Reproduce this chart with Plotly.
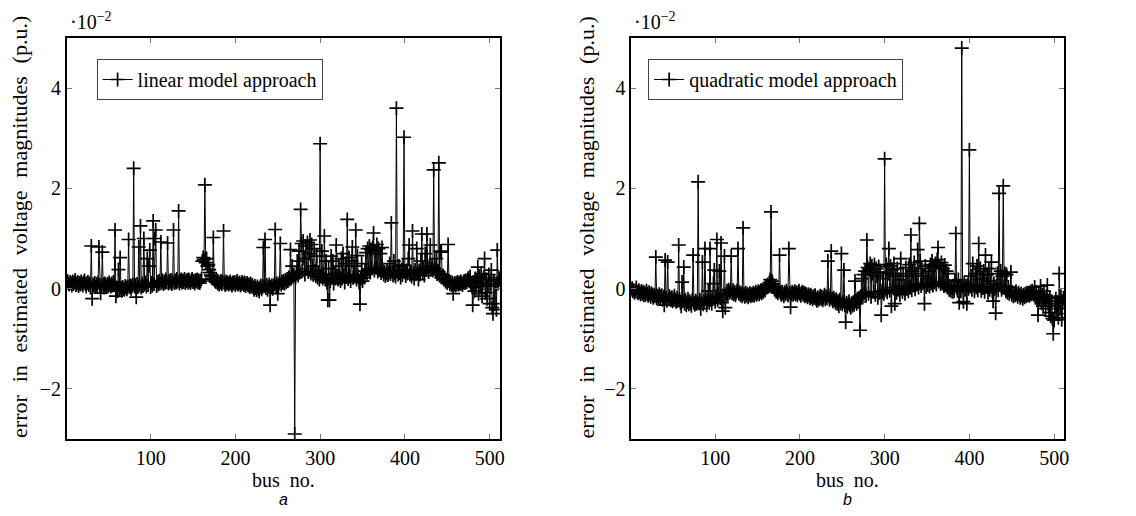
import plotly.graph_objects as go

# bus numbers
bus_no = list(range(1, 513))

# error in estimated voltage magnitudes (x 1e-2 p.u.), linear model approach
err_linear = [
    0.12, 0.15, 0.10, 0.08, 0.13, 0.11, 0.06, 0.14, 0.09, 0.12, 0.17, 0.07, 0.10, 0.13, 0.05, 0.11,
    0.08, 0.14, 0.10, 0.06, 0.12, 0.16, 0.09, 0.04, 0.11, 0.13, 0.07, 0.10, 0.02, 0.85, -0.20, 0.08,
    0.06, 0.11, 0.03, 0.09, 0.05, 0.12, 0.83, 0.07, -0.09, 0.04, 0.73, 0.08, 0.02, 0.10, 0.06, 0.03,
    0.09, 0.05, 0.12, 0.07, 0.04, 0.10, 0.06, 0.13, 0.08, 1.17, -0.15, 0.02, -0.05, 0.38, -0.03, 0.62,
    0.01, -0.04, 0.03, 0.00, -0.02, 0.05, 0.02, -0.01, 0.04, 0.98, 0.03, 0.06, 0.00, 0.05, 0.08, 2.40,
    0.04, 0.07, -0.17, 0.09, 0.03, 0.83, 0.06, 1.25, 0.02, 0.10, 0.05, 1.00, 0.08, 0.12, 0.04, 0.60,
    0.07, 0.45, 0.77, 0.03, 0.11, 0.06, 1.35, 0.09, 1.00, 1.17, 0.05, 0.13, 0.08, 0.15, 0.10, 0.93,
    0.12, 0.16, 0.09, 0.14, 0.11, 0.18, 0.13, 0.91, 0.10, 0.15, 0.12, 0.17, 0.09, 0.14, 1.17, 0.11,
    0.16, 0.12, 0.19, 0.14, 1.55, 0.10, 0.15, 0.18, 0.12, 0.16, 0.13, 0.19, 0.11, 0.15, 0.17, 0.12,
    0.18, 0.14, 0.11, 0.16, 0.19, 0.13, 0.15, 0.10, 0.17, 0.14, 0.18, 0.12, 0.16, 0.11, 0.15, 0.19,
    0.55, 0.62, 0.58, 2.07, 0.52, 0.60, 0.45, 0.48, 0.38, 0.32, 0.27, 0.24, 0.20, 1.02, 0.18, 0.15,
    0.13, 0.17, 0.10, 0.14, 0.08, 0.12, 0.15, 0.09, 0.13, 1.15, 0.11, 0.07, 0.14, 0.10, 0.12, 0.08,
    0.11, 0.14, 0.09, 0.06, 0.12, 0.10, 0.13, 0.07, 0.11, 0.15, 0.08, 0.10, 0.12, 0.06, 0.09, 0.13,
    0.10, 0.07, 0.12, 0.05, 0.09, 0.11, 0.06, 0.08, 0.03, 0.10, 0.04, 0.07, 0.02, -0.02, 0.05, 0.01,
    -0.03, 0.04, 0.00, -0.05, 0.02, 0.06, -0.01, 0.03, 0.82, 0.05, 0.98, 0.01, 0.07, -0.02, 0.04, 0.08,
    -0.33, 0.03, 0.06, 0.00, 0.05, 0.09, 1.18, 0.04, 0.10, -0.10, 0.07, 0.12, 0.90, 0.08, 0.14, 0.11,
    0.15, 0.10, 0.17, 0.13, 0.19, 0.15, 0.22, 0.18, 0.78, 0.20, 0.45, 0.24, 0.28, -2.90, 0.22, 0.30,
    0.55, 0.26, 0.75, 0.32, 1.58, 0.90, 0.35, 0.95, 0.60, 0.28, 0.85, 0.40, 0.92, 0.33, 0.70, 0.97,
    0.30, 0.88, 0.45, 0.27, 0.80, 0.35, 0.25, 0.65, 0.22, 0.30, 0.18, 2.89, 0.25, 0.75, 0.20, 0.28,
    1.05, 0.18, 0.55, 0.12, -0.23, 0.40, -0.23, 0.15, 0.65, 0.22, 0.55, 0.10, 0.30, 0.20, 0.87, 0.25,
    0.18, 0.45, 0.22, 0.15, 0.60, 0.20, 0.70, 0.27, 0.12, 0.50, 0.23, 1.38, 0.19, 0.62, 0.26, 0.15,
    0.55, 0.83, 0.21, 0.45, 0.28, 1.17, 0.18, 0.66, 0.24, 0.12, -0.31, 0.20, 0.50, 0.15, 0.27, 0.22,
    0.35, 0.72, 0.30, 0.80, 0.38, 0.85, 0.32, 0.78, 0.40, 0.82, 1.11, 0.36, 0.75, 0.42, 0.88, 0.34,
    0.80, 0.37, 0.70, 0.31, 0.82, 0.35, 0.28, 0.33, 0.25, 0.30, 0.36, 0.27, 0.32, 0.50, 0.29, 1.31,
    0.33, 0.26, 0.55, 0.30, 0.24, 3.60, 0.35, 0.28, 0.45, 0.31, 0.22, 0.38, 0.27, 0.47, 3.02, 0.32,
    0.25, 0.36, 0.30, 0.60, 0.87, 0.28, 0.34, 0.24, 1.15, 0.31, 0.20, 0.37, 0.29, 0.80, 0.33, 0.18,
    0.36, 0.28, 0.55, 1.09, 0.31, 0.40, 0.26, 0.70, 0.37, 1.09, 0.42, 0.33, 0.45, 0.87, 0.38, 0.44,
    0.36, 2.37, 0.40, 0.33, 0.60, 0.29, 0.35, 2.51, 0.30, 0.75, 0.73, 0.22, 0.26, 0.18, 0.21, 0.14,
    0.17, 0.11, 0.88, 0.15, 0.09, 0.13, 0.07, 0.12, -0.10, 0.08, 0.11, 0.06, 0.10, 0.13, 0.08, 0.12,
    0.09, 0.14, 0.10, 0.07, 0.12, 0.15, 0.11, 0.16, 0.13, 0.18, 0.21, 0.15, 0.24, 0.10, 0.05, -0.33,
    0.12, -0.05, 0.20, 0.02, 0.15, 0.43, -0.10, 0.25, 0.05, 0.30, -0.15, 0.10, 0.22, 0.60, -0.08, 0.18,
    -0.20, 0.05, 0.28, -0.30, 0.10, 0.37, -0.38, -0.50, 0.15, -0.30, 0.05, -0.42, 0.77, 0.10, 0.22, 0.18,
]

# error in estimated voltage magnitudes (x 1e-2 p.u.), quadratic model approach
err_quadratic = [
    -0.02, 0.01, -0.05, -0.03, -0.08, -0.04, 0.02, -0.06, -0.09, -0.03, -0.07, -0.11, -0.05, -0.10, -0.06, -0.13,
    -0.08, -0.12, -0.04, -0.10, -0.14, -0.07, -0.11, -0.16, -0.09, -0.13, -0.18, -0.12, -0.15, 0.63, -0.19, -0.14,
    -0.17, -0.11, -0.20, -0.15, -0.13, -0.22, -0.16, -0.33, 0.57, -0.18, -0.24, 0.53, -0.21, -0.15, -0.19, -0.23,
    -0.17, -0.25, -0.20, -0.14, -0.22, -0.26, -0.18, -0.24, 0.87, -0.21, -0.28, -0.35, 0.13, -0.25, 0.43, -0.30,
    -0.22, -0.33, -0.27, -0.20, -0.31, -0.25, -0.29, -0.34, -0.23, 0.67, -0.28, -0.32, -0.24, -0.30, -0.26, 2.13,
    -0.29, -0.22, -0.40, -0.27, 0.53, -0.31, -0.25, 0.80, -0.20, -0.33, -0.24, -0.05, -0.28, 0.80, -0.22, -0.30,
    -0.18, 0.10, 0.37, -0.26, -0.15, 0.98, -0.23, -0.10, 0.35, -0.19, 0.91, -0.28, -0.45, -0.14, 0.65, -0.38,
    -0.10, -0.04, -0.12, -0.02, -0.08, -0.05, 0.65, -0.09, -0.03, -0.11, -0.06, -0.13, -0.08, -0.04, 0.80, -0.10,
    -0.07, -0.13, -0.09, -0.15, 1.21, -0.11, -0.16, -0.08, -0.14, -0.10, -0.17, -0.12, -0.09, -0.15, -0.11, -0.13,
    -0.08, -0.14, -0.10, -0.06, -0.12, -0.09, -0.05, -0.11, -0.07, -0.03, -0.09, -0.04, -0.06, 0.00, -0.03, 0.04,
    0.02, 0.08, 0.05, 0.12, 0.18, 1.53, 0.15, 0.10, 0.04, -0.02, 0.01, -0.06, -0.03, -0.09, -0.05, 0.67,
    -0.08, -0.12, -0.06, -0.10, -0.15, -0.07, -0.11, -0.04, -0.09, -0.13, 0.80, -0.08, -0.37, -0.10, -0.06, -0.12,
    -0.09, -0.05, -0.11, -0.07, -0.13, -0.08, -0.04, -0.10, -0.14, -0.09, -0.06, -0.12, -0.08, -0.15, -0.10, -0.13,
    -0.17, -0.11, -0.14, -0.19, -0.12, -0.16, -0.21, -0.15, -0.18, -0.13, -0.20, -0.24, -0.17, -0.22, -0.19, -0.14,
    -0.20, -0.16, -0.23, -0.18, -0.12, -0.21, -0.15, -0.19, 0.55, -0.13, -0.22, -0.17, 0.75, -0.20, -0.25, -0.18,
    -0.23, -0.28, -0.21, -0.30, -0.25, -0.35, -0.22, -0.29, 0.70, -0.31, -0.26, 0.37, -0.33, -0.67, -0.28, -0.36,
    -0.30, -0.25, -0.33, -0.38, -0.29, -0.34, -0.27, -0.32, 0.15, -0.24, -0.30, -0.21, -0.26, -0.18, -0.83, -0.15,
    0.20, -0.12, 0.28, -0.08, 0.35, -0.14, 0.97, 0.42, -0.10, 0.38, 0.50, -0.16, 0.45, 0.30, -0.06, 0.48,
    -0.12, 0.40, 0.25, -0.18, 0.44, -0.08, 0.33, -0.53, -0.05, 0.20, -0.10, 2.59, -0.02, 0.48, -0.07, 0.30,
    0.80, -0.04, 0.45, -0.35, 0.38, 0.02, 0.50, -0.30, 0.25, -0.08, 0.40, -0.02, 0.18, -0.12, 0.60, 0.05,
    -0.06, 0.30, 0.02, -0.10, 0.42, 0.00, 0.25, -0.05, 0.48, 0.04, 1.07, -0.03, 0.35, 0.06, 0.52, -0.01,
    0.30, 0.08, 0.78, 0.02, 1.30, 0.55, 0.05, 0.40, 0.10, 0.25, -0.30, 0.45, 0.03, 0.20, 0.07, 0.35,
    0.04, 0.48, 0.10, 0.55, 0.06, 0.42, 0.12, 0.50, 0.08, 0.58, 0.82, 0.14, 0.45, 0.09, 0.52, 0.11,
    0.40, 0.05, 0.47, 0.07, 0.35, 0.02, 0.30, -0.02, 0.05, -0.04, 0.02, -0.06, 0.03, -0.05, 0.15, 1.10,
    0.01, -0.04, 0.18, -0.28, 0.02, -0.05, 4.80, 0.03, -0.26, 0.12, -0.02, 0.05, -0.30, 0.08, 0.00, 2.77,
    0.04, 0.25, -0.02, 0.50, 0.06, -0.05, 0.30, 0.02, 0.45, -0.03, 0.90, 0.05, 0.40, -0.04, 0.20, 0.01,
    0.35, -0.06, 0.67, 0.03, 0.28, -0.08, 0.40, -0.02, 0.15, 0.53, -0.05, -0.25, 0.10, 0.00, -0.49, 0.05,
    0.30, -0.03, 1.90, 0.08, 0.35, -0.02, 0.25, 2.05, 0.02, 0.30, -0.05, 0.28, -0.08, 0.03, -0.10, -0.06,
    0.33, -0.12, -0.07, -0.15, -0.09, -0.13, -0.05, -0.11, -0.16, -0.08, -0.12, -0.18, -0.10, -0.14, -0.20, -0.12,
    -0.17, -0.10, -0.15, -0.08, -0.13, -0.09, -0.14, -0.06, -0.11, -0.04, -0.08, -0.12, 0.03, -0.18, -0.07, -0.22,
    -0.53, -0.10, -0.20, 0.05, -0.28, -0.12, -0.35, -0.05, -0.22, -0.40, -0.15, 0.07, -0.30, -0.48, -0.18, -0.55,
    -0.25, -0.60, -0.90, -0.63, -0.35, -0.20, -0.50, -0.30, -0.58, 0.30, -0.40, -0.15, -0.62, -0.25, -0.18, -0.20,
]

x_ticks = [100, 200, 300, 400, 500]
y_ticks = [-2, 0, 2, 4]
y_ticktext = ["\u22122", "0", "2", "4"]

SERIF = "Liberation Serif"
OFF = 8                      # default page margin of the html body
W, H = 1136 - OFF, 516 - OFF

fig = go.Figure()

def add_series(y, name, xa, ya, legend):
    fig.add_trace(go.Scatter(
        x=bus_no, y=y, name=name, mode="lines+markers",
        xaxis=xa, yaxis=ya, legend=legend,
        line=dict(color="black", width=1),
        marker=dict(symbol="cross-thin", size=10, color="black",
                    line=dict(color="black", width=1.7)),
        showlegend=True,
    ))

add_series(err_linear, "linear model approach", "x", "y", "legend")
add_series(err_quadratic, "quadratic model approach", "x2", "y2", "legend2")

def px_x(p):
    return (p - OFF) / W

def px_y(p):
    return 1 - (p - OFF) / H

y_dom = [px_y(439), px_y(38)]
axis_common = dict(
    showline=True, linecolor="black", linewidth=1.6, mirror="ticks",
    ticks="inside", ticklen=5, tickwidth=1, tickcolor="#777",
    showgrid=False, zeroline=False,
    tickfont=dict(family=SERIF, size=20, color="black"),
)

legend_common = dict(xanchor="left", yanchor="top",
                     bgcolor="white", bordercolor="#444", borderwidth=1,
                     font=dict(family=SERIF, size=20, color="black"),
                     itemwidth=30, tracegroupgap=0)

fig.update_layout(
    width=W, height=H,
    margin=dict(l=0, r=0, t=0, b=0),
    paper_bgcolor="white", plot_bgcolor="white",
    xaxis=dict(domain=[px_x(67), px_x(502)], range=[1, 512], tickvals=x_ticks,
               anchor="y", **axis_common),
    yaxis=dict(domain=y_dom, range=[-3, 5], tickvals=y_ticks, ticktext=y_ticktext,
               anchor="x", **axis_common),
    xaxis2=dict(domain=[px_x(634), px_x(1069)], range=[1, 512], tickvals=x_ticks,
                anchor="y2", **axis_common),
    yaxis2=dict(domain=y_dom, range=[-3, 5], tickvals=y_ticks, ticktext=y_ticktext,
                anchor="x2", **axis_common),
    legend=dict(x=px_x(97), y=px_y(59), **legend_common),
    legend2=dict(x=px_x(651), y=px_y(59), **legend_common),
    showlegend=True,
)

ann = []
gap = "\u00a0\u200a "
ylab = gap.join(["error", "in", "estimated", "voltage", "magnitudes", "(p.u.)"])
for cx, ylab_x, mult_x, cap in [(284.5, 19, 68, "a"), (851.5, 589, 635, "b")]:
    ann.append(dict(x=px_x(ylab_x), y=px_y(227), xref="paper", yref="paper",
                    text=ylab, textangle=-90,
                    showarrow=False, xanchor="center", yanchor="middle",
                    font=dict(family=SERIF, size=22, color="black")))
    ann.append(dict(x=px_x(cx), y=px_y(480), xref="paper", yref="paper",
                    text="bus\u00a0 no.", showarrow=False, xanchor="center", yanchor="middle",
                    font=dict(family=SERIF, size=20, color="black")))
    ann.append(dict(x=px_x(mult_x), y=px_y(21), xref="paper", yref="paper",
                    text="\u00b710<sup>\u22122</sup>", showarrow=False,
                    xanchor="left", yanchor="middle",
                    font=dict(family=SERIF, size=20, color="black")))
    ann.append(dict(x=px_x(cx), y=px_y(499), xref="paper", yref="paper",
                    text="<i>" + cap + "</i>", showarrow=False,
                    xanchor="center", yanchor="middle",
                    font=dict(family="Liberation Sans", size=16, color="black")))
fig.update_layout(annotations=ann)

fig.write_html("out.html")
